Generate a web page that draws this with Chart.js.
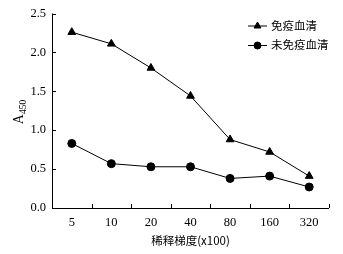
<!DOCTYPE html>
<html><head><meta charset="utf-8">
<script src="https://cdn.jsdelivr.net/npm/chart.js@4/dist/chart.umd.min.js"></script>
<style>html,body{margin:0;padding:0;background:#fff}#w{width:343px;height:254px}</style>
</head><body><div id="w"><canvas id="c"></canvas></div>
<script>
const categories = ["5","10","20","40","80","160","320"];
const immuneSerum = [2.26, 2.11, 1.80, 1.44, 0.88, 0.72, 0.41];
const nonImmuneSerum = [0.83, 0.57, 0.53, 0.53, 0.38, 0.41, 0.27];
const seriesNames = ["免疫血清", "未免疫血清"];
const yTicks = [0, 0.5, 1.0, 1.5, 2.0, 2.5];
const xTitle = "稀释梯度(x100)";
const yTitleMain = "A";
const yTitleSub = "450";

const SERIF = '"Liberation Serif","Noto Sans CJK SC",serif';
const CJK = '"Noto Sans CJK SC","Liberation Serif",serif';

const decor = {
  id: 'decor',
  afterDraw(chart) {
    const ctx = chart.ctx, a = chart.chartArea;
    const xs = chart.scales.x, ys = chart.scales.y;
    ctx.save();
    ctx.strokeStyle = '#000'; ctx.lineWidth = 1;
    ctx.beginPath();
    ctx.moveTo(a.left + 0.5, a.top); ctx.lineTo(a.left + 0.5, a.bottom + 0.5);
    ctx.lineTo(a.right, a.bottom + 0.5);
    ctx.stroke();
    ctx.beginPath();
    yTicks.forEach(v => { const y = Math.round(ys.getPixelForValue(v)) + 0.5; ctx.moveTo(a.left, y); ctx.lineTo(a.left + 4, y); });
    const n = categories.length;
    const step = xs.getPixelForValue(1) - xs.getPixelForValue(0);
    for (let i = 0; i < n; i++) {
      const x = Math.round(xs.getPixelForValue(i) + step / 2) + 0.5;
      ctx.moveTo(x, a.bottom); ctx.lineTo(x, a.bottom - 4);
    }
    ctx.stroke();
    ctx.fillStyle = '#000';
    ctx.translate(19, 112);
    ctx.rotate(-Math.PI / 2);
    ctx.textBaseline = 'middle';
    ctx.font = '14px ' + SERIF;
    const wA = ctx.measureText(yTitleMain).width;
    ctx.font = '9.5px ' + SERIF;
    const wS = ctx.measureText(yTitleSub).width;
    let sx = -(wA + wS) / 2;
    ctx.font = '14px ' + SERIF;
    ctx.textAlign = 'left';
    ctx.fillText(yTitleMain, sx, 0);
    ctx.font = '9.5px ' + SERIF;
    ctx.fillText(yTitleSub, sx + wA, 4);
    ctx.restore();
    ctx.save();
    const rows = [25.5, 45];
    chart.data.datasets.forEach((ds, i) => {
      const y = rows[i];
      ctx.strokeStyle = '#000'; ctx.lineWidth = 1;
      ctx.beginPath(); ctx.moveTo(248, y + 0.5); ctx.lineTo(267, y + 0.5); ctx.stroke();
      Chart.helpers.drawPoint(ctx, { pointStyle: ds.pointStyle, radius: ds.pointRadius - 0.5, borderWidth: 1 }, 257.5, y + 0.5);
      ctx.fillStyle = '#000';
      ctx.font = '11.5px ' + CJK;
      ctx.textBaseline = 'middle'; ctx.textAlign = 'left';
      ctx.fillText(ds.label, 271, y);
    });
    ctx.restore();
  }
};

new Chart(document.getElementById('c'), {
  type: 'line',
  data: {
    labels: categories,
    datasets: [
      { label: seriesNames[0], data: immuneSerum, borderColor: '#000', backgroundColor: '#000', borderWidth: 1,
        pointStyle: 'triangle', pointRadius: 4.5, pointBorderColor: '#000', pointBackgroundColor: '#000', tension: 0 },
      { label: seriesNames[1], data: nonImmuneSerum, borderColor: '#000', backgroundColor: '#000', borderWidth: 1,
        pointStyle: 'circle', pointRadius: 4, pointBorderColor: '#000', pointBackgroundColor: '#000', tension: 0 }
    ]
  },
  options: {
    responsive: true, maintainAspectRatio: false, animation: false,
    devicePixelRatio: 1,
    layout: { padding: { left: 0, right: 14, top: 12, bottom: 0 } },
    plugins: { legend: { display: false }, tooltip: { enabled: false } },
    scales: {
      x: {
        type: 'category', offset: true,
        grid: { display: false, drawTicks: false }, border: { display: false },
        ticks: { color: '#000', font: { family: SERIF, size: 12.5 }, padding: 7, maxRotation: 0 },
        title: { display: true, text: xTitle, color: '#000', font: { family: CJK, size: 11.5 }, padding: { top: 2, bottom: 6 } },
        afterFit(s) { s.height = 46; }
      },
      y: {
        min: 0, max: 2.5,
        afterBuildTicks(s) { s.ticks = yTicks.map(v => ({ value: v })); },
        grid: { display: false, drawTicks: false }, border: { display: false },
        ticks: { color: '#000', font: { family: SERIF, size: 12.5 }, padding: 6, callback: v => v.toFixed(1) },
        afterFit(s) { s.width = 52; }
      }
    }
  },
  plugins: [decor]
});
</script>
</body></html>
